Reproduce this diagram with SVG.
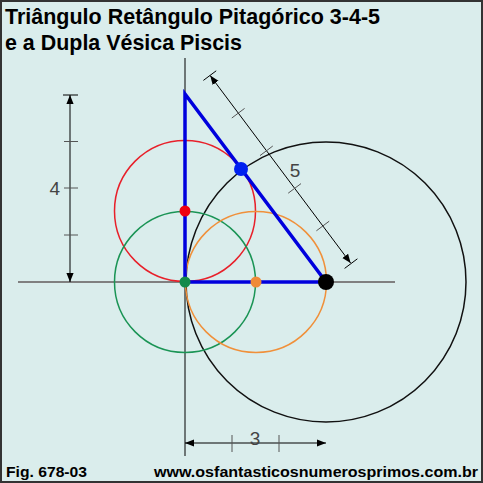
<svg xmlns="http://www.w3.org/2000/svg" width="483" height="483" viewBox="0 0 483 483">
<style>
.title{font-family:"Liberation Sans",Arial,sans-serif;font-weight:bold;fill:#000}
.lbl{font-family:"Liberation Sans",Arial,sans-serif;font-size:19px;fill:#444}
.dim{stroke:#000;stroke-width:1;fill:none}
.tick{stroke:#555;stroke-width:1}
.circ{fill:none;stroke-width:1.5}
</style>
<defs>
<marker id="ar" viewBox="0 0 10 10" refX="10" refY="5" markerWidth="9" markerHeight="9" markerUnits="userSpaceOnUse" orient="auto-start-reverse">
<path d="M0,1 L10,5 L0,9 Z" fill="#000"/>
</marker>
</defs>
<rect x="1" y="1" width="481" height="481" fill="#DAEDEC" stroke="#333" stroke-width="2"/>
<g id="title">
<text class="title" x="5" y="24" font-size="22" textLength="375" lengthAdjust="spacingAndGlyphs">Triângulo Retângulo Pitagórico 3-4-5</text>
<text class="title" x="5" y="50" font-size="22" textLength="237" lengthAdjust="spacingAndGlyphs">e a Dupla Vésica Piscis</text>
</g>
<g id="axes">
<line x1="18" y1="282" x2="395" y2="282" stroke="#808080" stroke-width="2"/>
<line x1="185" y1="58" x2="185" y2="456" stroke="#000" stroke-width="1"/>
</g>
<g id="circles">
<circle id="black-circle" class="circ" cx="326" cy="282" r="140" stroke="#111" stroke-width="1"/>
<circle id="red-circle" class="circ" cx="185" cy="211" r="70.5" stroke="#E8202A"/>
<circle id="green-circle" class="circ" cx="185" cy="282" r="70.5" stroke="#1A9455"/>
<circle id="orange-circle" class="circ" cx="256" cy="282" r="70.5" stroke="#F0903A"/>
</g>
<g id="triangle">
<polygon points="185,94 185,282 326,282" fill="none" stroke="#0000DD" stroke-width="3.5" stroke-linejoin="miter"/>
</g>
<g id="connectors">
<line class="dim" x1="70" y1="282" x2="70" y2="95" marker-start="url(#ar)" marker-end="url(#ar)"/>
<line x1="63" y1="95" x2="78" y2="95" stroke="#000" stroke-width="1"/>
<line class="tick" x1="64" y1="141.5" x2="78" y2="141.5"/>
<line class="tick" x1="64" y1="188" x2="78" y2="188"/>
<line class="tick" x1="64" y1="235" x2="78" y2="235"/>
<line class="dim" x1="185" y1="443" x2="326" y2="443" marker-start="url(#ar)" marker-end="url(#ar)"/>
<line class="tick" x1="232" y1="435" x2="232" y2="452"/>
<line class="tick" x1="279" y1="435" x2="279" y2="452"/>
<line class="dim" x1="210.2" y1="75.6" x2="350.6" y2="263" marker-start="url(#ar)" marker-end="url(#ar)"/>
<g class="tick">
<line x1="203.4" y1="80.4" x2="216.2" y2="70.8" stroke="#000"/>
<line x1="231.8" y1="118" x2="244.6" y2="108.4"/>
<line x1="260" y1="155.6" x2="272.8" y2="146"/>
<line x1="288.2" y1="193.2" x2="301" y2="183.6"/>
<line x1="316.4" y1="230.8" x2="329.2" y2="221.2"/>
<line x1="344.6" y1="268.4" x2="357.4" y2="258.8" stroke="#000"/>
</g>
</g>
<g id="labels">
<text class="lbl" x="60" y="195" text-anchor="end">4</text>
<text class="lbl" x="255" y="445" text-anchor="middle">3</text>
<text class="lbl" x="295" y="177" text-anchor="middle">5</text>
</g>
<g id="points">
<circle id="p-red" cx="185" cy="211" r="5.5" fill="#F00010"/>
<circle id="p-green" cx="185" cy="282" r="5.5" fill="#148A4A"/>
<circle id="p-orange" cx="256" cy="282" r="5.5" fill="#F08A38"/>
<circle id="p-blue" cx="241" cy="169" r="7" fill="#0020F0"/>
<circle id="p-black" cx="326" cy="282" r="8" fill="#000"/>
</g>
<g id="footer">
<text class="title" x="6" y="477" font-size="15" textLength="81" lengthAdjust="spacingAndGlyphs">Fig. 678-03</text>
<text class="title" x="154" y="477" font-size="15" textLength="324" lengthAdjust="spacingAndGlyphs">www.osfantasticosnumerosprimos.com.br</text>
</g>
</svg>
